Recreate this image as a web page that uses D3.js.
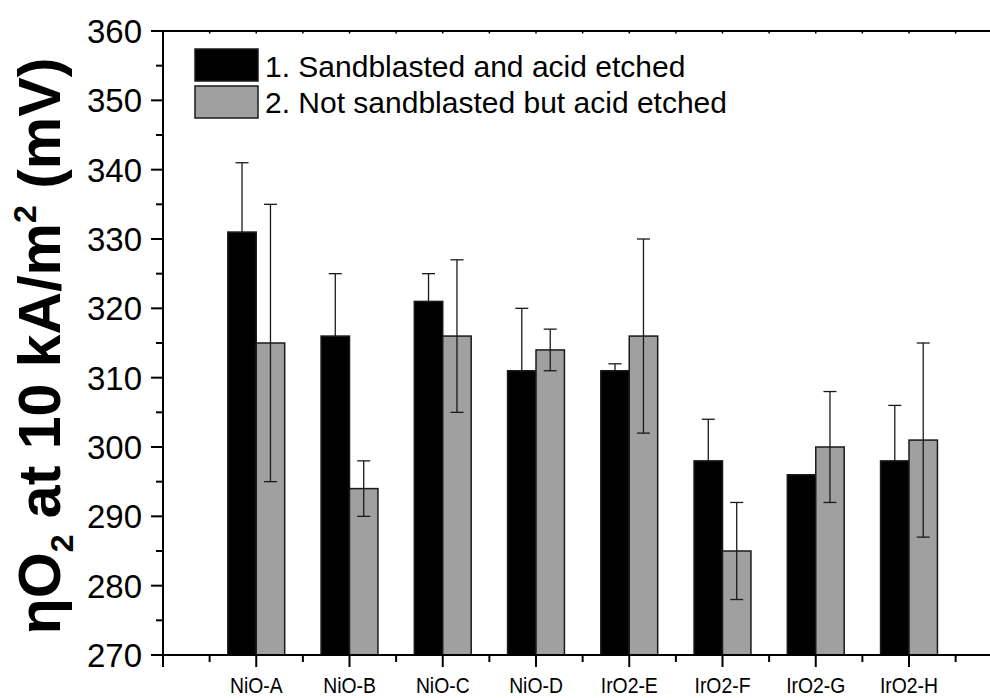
<!DOCTYPE html>
<html><head><meta charset="utf-8">
<script src="https://cdn.jsdelivr.net/npm/d3@7"></script>
<style>
html,body{margin:0;padding:0;background:#fff;}
svg{display:block;font-family:"Liberation Sans",Arial,sans-serif;}
</style></head>
<body>
<svg id="chart" width="990" height="698"></svg>
<script>
const categories = ["NiO-A","NiO-B","NiO-C","NiO-D","IrO2-E","IrO2-F","IrO2-G","IrO2-H"];
const seriesNames = ["1. Sandblasted and acid etched","2. Not sandblasted but acid etched"];
const series1 = [331,316,321,311,311,298,296,298];
const series1Err = [10,9,4,9,1,6,0,8];
const series2 = [315,294,316,314,316,285,300,301];
const series2Err = [20,4,11,3,14,7,8,14];
const yTicks = [270,280,290,300,310,320,330,340,350,360];

const svg = d3.select("#chart");
const W = 990, H = 698;
const x = d3.scaleLinear().domain([0,9]).range([163, 163 + 9*93.25]);
const y = d3.scaleLinear().domain([270,360]).range([655,31]);
const barW = (x(1)-x(0))*0.305;
const fills = ["#000000","#a0a0a0"];

const data = [];
categories.forEach((c,i)=>{
  data.push({c, i, s:0, v:series1[i], e:series1Err[i]});
  data.push({c, i, s:1, v:series2[i], e:series2Err[i]});
});
const cx = d => d.s===0 ? x(d.i+1)-barW/2 : x(d.i+1)+barW/2;
const capW = 13;

function drawErr(sel){
  const eb = sel.append("g").attr("stroke","#1a1a1a").attr("stroke-width",1.3)
    .selectAll("g").data(sel.datum()).join("g");
  eb.append("line").attr("x1",cx).attr("x2",cx)
    .attr("y1", d => y(d.v+d.e)).attr("y2", d => y(d.v-d.e));
  eb.append("line").attr("x1",d=>cx(d)-capW/2).attr("x2",d=>cx(d)+capW/2)
    .attr("y1", d => y(d.v+d.e)).attr("y2", d => y(d.v+d.e));
  eb.append("line").attr("x1",d=>cx(d)-capW/2).attr("x2",d=>cx(d)+capW/2)
    .attr("y1", d => y(d.v-d.e)).attr("y2", d => y(d.v-d.e));
}

const g = svg.append("g");
// series 1 error bars behind (lower half hidden by the black bar)
g.append("g").datum(data.filter(d=>d.s===0 && d.e>0)).call(drawErr);

g.selectAll("rect.bar").data(data).join("rect")
  .attr("class","bar")
  .attr("x", d => d.s===0 ? x(d.i+1)-barW : x(d.i+1))
  .attr("y", d => y(d.v))
  .attr("width", barW)
  .attr("height", d => y(270)-y(d.v))
  .attr("fill", d => fills[d.s])
  .attr("stroke", "#1a1a1a")
  .attr("stroke-width", 1.5);

// series 2 error bars on top
g.append("g").datum(data.filter(d=>d.s===1 && d.e>0)).call(drawErr);

// axes
const axisStroke = 2;
const xMajor = d3.range(0,10);
const xMinor = d3.range(0,9).map(v=>v+0.5);
const xb = svg.append("g").attr("transform",`translate(0,${y(270)})`);
xb.append("line").attr("x1",x(0)).attr("x2",W).attr("stroke","#000").attr("stroke-width",axisStroke);
xb.selectAll("line.maj").data(xMajor).join("line").attr("class","maj")
  .attr("x1",d=>x(d)).attr("x2",d=>x(d)).attr("y1",0).attr("y2",12)
  .attr("stroke","#000").attr("stroke-width",2);
xb.selectAll("line.min").data(xMinor).join("line").attr("class","min")
  .attr("x1",d=>x(d)).attr("x2",d=>x(d)).attr("y1",0).attr("y2",7)
  .attr("stroke","#000").attr("stroke-width",2);
xb.selectAll("text").data(categories).join("text")
  .attr("transform",(d,i)=>`translate(${x(i+1)},38) scale(0.88,1)`)
  .attr("text-anchor","middle").attr("font-size",22).attr("fill","#000")
  .text(d=>d);

// top axis
const xt = svg.append("g").attr("transform",`translate(0,${y(360)})`);
xt.append("line").attr("x1",x(0)).attr("x2",W).attr("stroke","#000").attr("stroke-width",axisStroke);
xt.selectAll("line.t").data(xMajor.concat(xMinor)).join("line").attr("class","t")
  .attr("x1",d=>x(d)).attr("x2",d=>x(d)).attr("y1",0).attr("y2",2.5)
  .attr("stroke","#000").attr("stroke-width",1.5);

// left axis
const yl = svg.append("g").attr("transform",`translate(${x(0)},0)`);
yl.append("line").attr("y1",y(360)-1).attr("y2",y(270)+12).attr("stroke","#000").attr("stroke-width",axisStroke);
yl.selectAll("line.maj").data(yTicks).join("line").attr("class","maj")
  .attr("x1",-12).attr("x2",0).attr("y1",d=>y(d)).attr("y2",d=>y(d))
  .attr("stroke","#000").attr("stroke-width",2);
yl.selectAll("line.min").data(yTicks.slice(0,-1).map(v=>v+5)).join("line").attr("class","min")
  .attr("x1",-7).attr("x2",0).attr("y1",d=>y(d)).attr("y2",d=>y(d))
  .attr("stroke","#000").attr("stroke-width",2);
yl.selectAll("text").data(yTicks).join("text")
  .attr("x",-21).attr("y",d=>y(d)).attr("dy","0.36em")
  .attr("text-anchor","end").attr("font-size",33).attr("fill","#000")
  .text(d=>d);

// y title
const title = svg.append("text")
  .attr("transform",`translate(60,346) rotate(-90)`)
  .attr("text-anchor","middle").attr("font-size",59).attr("font-weight","bold").attr("fill","#000");
title.append("tspan").text("ηO");
title.append("tspan").attr("font-size",32).attr("dy",13).text("2");
title.append("tspan").attr("dy",-13).text(" at 10 kA/m");
title.append("tspan").attr("font-size",32).attr("dy",-24).text("2");
title.append("tspan").attr("dy",24).text(" (mV)");

// legend
const lg = svg.append("g");
seriesNames.forEach((n,i)=>{
  lg.append("rect").attr("x",195).attr("y",49+i*37).attr("width",63).attr("height",32)
    .attr("fill",fills[i]).attr("stroke","#1a1a1a").attr("stroke-width",1.5);
  lg.append("text").attr("x",265).attr("y",77+i*35.5).attr("font-size",30).attr("fill","#000").text(n);
});
</script>
</body></html>
